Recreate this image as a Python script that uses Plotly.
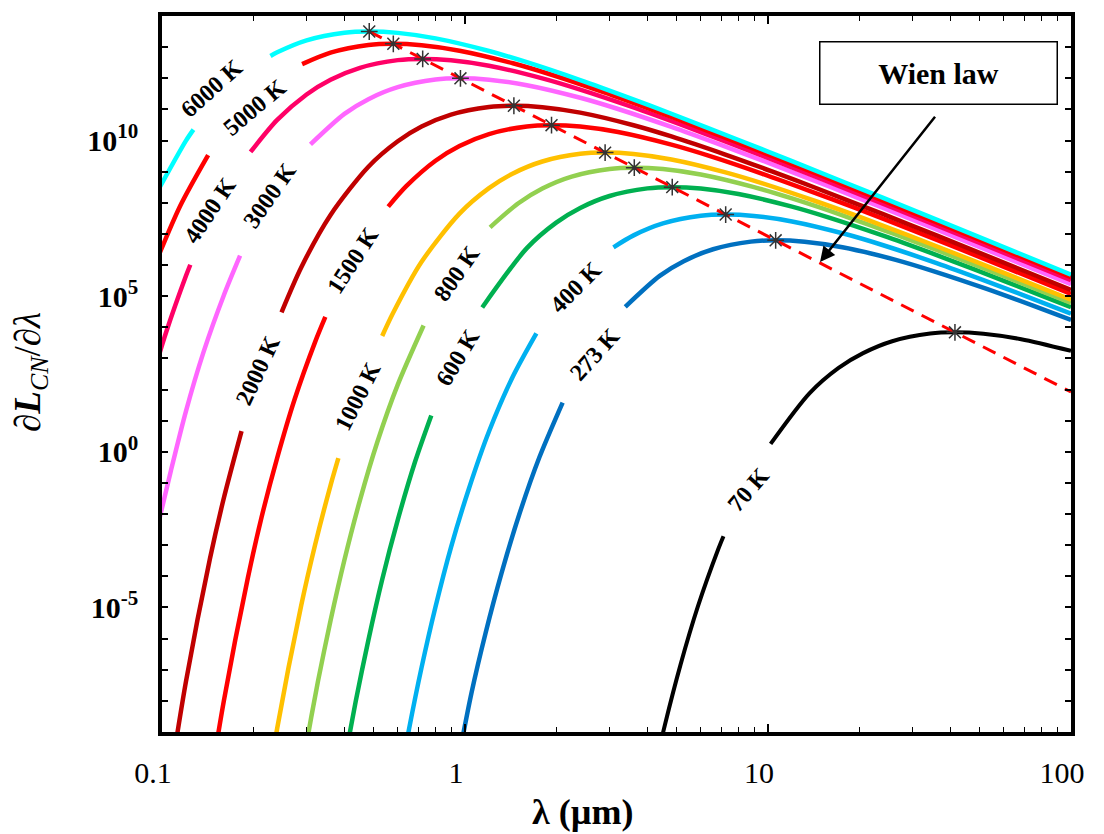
import plotly.graph_objects as go

# ---------------- data ----------------
# wavelength (um) and spectral radiance; None marks the gap where the label sits
lam_6000 = [0.0959, 0.120, 0.127, None, 0.228, 0.240, 0.300, 0.400, 0.480, 0.600, 0.800, 1.20, 1.60, 2.40, 3.43, 4.80, 8.00, 12.0, 24.0, 48.0, 100]
val_6000 = [2.04e8, 9.91e9, 2.24e10, None, 5.20e12, 6.82e12, 1.65e13, 2.90e13, 3.18e13, 2.87e13, 1.91e13, 7.53e12, 3.28e12, 8.75e11, 2.49e11, 7.24e10, 1.04e10, 2.17e9, 1.43e8, 9.16e6, 4.91e5]

lam_5000 = [0.0959, 0.115, 0.142, None, 0.290, 0.360, 0.480, 0.576, 0.719, 0.959, 1.44, 1.92, 2.88, 4.11, 5.76, 9.59, 14.4, 28.8, 57.6, 100]
val_5000 = [1.37e6, 8.18e7, 3.40e9, None, 2.84e12, 6.64e12, 1.17e13, 1.28e13, 1.15e13, 7.69e12, 3.03e12, 1.32e12, 3.52e11, 1.00e11, 2.91e10, 4.20e9, 8.73e8, 5.74e7, 3.68e6, 4.08e5]

lam_4000 = [0.0899, 0.103, 0.120, 0.124, None, 0.196, 0.240, 0.300, 0.360, 0.450, 0.600, 0.719, 0.899, 1.20, 1.80, 2.40, 3.60, 5.14, 7.19, 12.0, 18.0, 36.0, 71.9, 100]
val_4000 = [85.9, 6.55e3, 4.50e5, 1.02e6, None, 4.29e9, 4.59e10, 3.02e11, 8.98e11, 2.17e12, 3.82e12, 4.19e12, 3.78e12, 2.52e12, 9.91e11, 4.32e11, 1.15e11, 3.27e10, 9.53e9, 1.37e9, 2.86e8, 1.88e7, 1.21e6, 3.25e5]

lam_3000 = [0.0959, 0.107, 0.120, 0.137, 0.160, 0.181, None, 0.309, 0.400, 0.480, 0.600, 0.799, 0.959, 1.20, 1.60, 2.40, 3.20, 4.80, 6.85, 9.59, 16.0, 24.0, 48.0, 100]
val_3000 = [2.83e-3, 0.248, 20.4, 1.56e3, 1.07e5, 1.99e6, None, 7.53e9, 7.18e10, 2.13e11, 5.16e11, 9.08e11, 9.95e11, 8.97e11, 5.98e11, 2.36e11, 1.03e11, 2.74e10, 7.78e9, 2.26e9, 3.27e8, 6.79e7, 4.47e6, 2.43e5]

lam_2000 = [0.103, 0.120, 0.144, 0.160, 0.183, None, 0.248, 0.288, 0.360, 0.480, 0.600, 0.719, 0.899, 1.20, 1.44, 1.80, 2.40, 3.60, 4.80, 7.19, 10.3, 14.4, 24.0, 36.0, 71.9, 100]
val_2000 = [4.13e-12, 4.21e-8, 3.72e-4, 3.27e-2, 4.62, None, 3.04e4, 8.38e5, 4.07e7, 1.44e9, 9.44e9, 2.81e10, 6.79e10, 1.19e11, 1.31e11, 1.18e11, 7.87e10, 3.10e10, 1.35e10, 3.60e9, 1.02e9, 2.98e8, 4.30e7, 8.93e6, 5.87e5, 1.60e5]

lam_1500 = [0.137, 0.160, 0.192, 0.213, 0.240, 0.274, 0.320, 0.346, None, 0.558, 0.640, 0.799, 0.959, 1.20, 1.60, 1.92, 2.40, 3.20, 4.80, 6.40, 9.59, 13.7, 19.2, 32.0, 48.0, 100]
val_1500 = [9.82e-13, 1.00e-8, 8.85e-5, 7.76e-3, 0.638, 48.6, 3.34e3, 2.15e4, None, 7.55e7, 3.41e8, 2.24e9, 6.67e9, 1.61e10, 2.84e10, 3.11e10, 2.81e10, 1.87e10, 7.36e9, 3.21e9, 8.55e8, 2.43e8, 7.08e7, 1.02e7, 2.12e6, 1.19e5]

lam_1000 = [0.206, 0.240, 0.288, 0.320, 0.360, 0.382, None, 0.533, 0.576, 0.719, 0.959, 1.20, 1.44, 1.80, 2.40, 2.88, 3.60, 4.80, 7.19, 9.59, 14.4, 20.6, 28.8, 48.0, 100]
val_1000 = [1.29e-13, 1.32e-9, 1.16e-5, 1.02e-3, 8.39e-2, 0.624, None, 5.25e3, 2.62e4, 1.27e6, 4.49e7, 2.95e8, 8.77e8, 2.12e9, 3.73e9, 4.09e9, 3.69e9, 2.46e9, 9.68e8, 4.22e8, 1.12e8, 3.20e7, 9.31e6, 1.34e6, 7.69e4]

lam_800 = [0.257, 0.300, 0.327, 0.360, 0.400, 0.450, 0.514, 0.600, 0.730, None, 1.21, 1.50, 1.80, 2.25, 3.00, 3.60, 4.50, 6.00, 8.99, 12.0, 18.0, 25.7, 36.0, 60.0, 100]
val_800 = [4.24e-14, 4.32e-10, 4.15e-8, 3.82e-6, 3.35e-4, 2.75e-2, 2.10, 144, 1.14e4, None, 1.63e7, 9.68e7, 2.88e8, 6.97e8, 1.22e9, 1.34e9, 1.21e9, 8.07e8, 3.18e8, 1.38e8, 3.69e7, 1.05e7, 3.05e6, 4.41e5, 6.05e4]

lam_600 = [0.369, 0.400, 0.436, 0.480, 0.533, 0.600, 0.685, 0.774, None, 1.14, 1.60, 2.00, 2.40, 3.00, 4.00, 4.80, 6.00, 7.99, 12.0, 16.0, 24.0, 34.3, 48.0, 79.9, 100]
val_600 = [1.03e-12, 1.02e-10, 9.84e-9, 9.06e-7, 7.94e-5, 6.53e-3, 0.498, 14.8, None, 4.35e4, 3.49e6, 2.30e7, 6.82e7, 1.65e8, 2.90e8, 3.18e8, 2.87e8, 1.91e8, 7.53e7, 3.28e7, 8.75e6, 2.49e6, 7.24e5, 1.04e5, 4.40e4]

lam_400 = [0.553, 0.600, 0.654, 0.719, 0.799, 0.899, 1.03, 1.20, 1.44, 1.72, None, 3.09, 3.60, 4.50, 6.00, 7.19, 8.99, 12.0, 18.0, 24.0, 36.0, 51.4, 71.9, 100]
val_400 = [1.36e-13, 1.35e-11, 1.29e-9, 1.19e-7, 1.04e-5, 8.59e-4, 6.55e-2, 4.50, 268, 6.41e3, None, 3.72e6, 8.97e6, 2.17e7, 3.82e7, 4.19e7, 3.78e7, 2.52e7, 9.91e6, 4.32e6, 1.15e6, 3.27e5, 9.53e4, 2.75e4]

lam_273 = [0.878, 0.958, 1.05, 1.17, 1.32, 1.51, 1.76, 2.10, None, 3.38, 4.39, 5.27, 6.59, 8.78, 10.5, 13.2, 17.6, 26.4, 35.1, 52.7, 75.3, 100]
val_273 = [2.00e-12, 1.92e-10, 1.77e-8, 1.55e-6, 1.27e-4, 9.70e-3, 0.667, 38.2, None, 4.54e4, 4.48e5, 1.33e6, 3.22e6, 5.66e6, 6.21e6, 5.60e6, 3.73e6, 1.47e6, 6.40e5, 1.71e5, 4.85e4, 1.72e4]

lam_70 = [4.11, 4.57, 5.14, 5.87, 6.85, 7.13, None, 10.2, 13.7, 17.1, 20.6, 25.7, 34.3, 41.1, 51.4, 68.5, 100]
val_70 = [1.96e-11, 1.72e-9, 1.41e-7, 1.08e-5, 7.40e-4, 1.94e-3, None, 1.80, 75.5, 497, 1.48e3, 3.57e3, 6.28e3, 6.89e3, 6.21e3, 4.14e3, 1.75e3]

# peaks (Wien law stars) and the Wien line
peak_lam = [0.483, 0.580, 0.725, 0.966, 1.45, 1.93, 2.90, 3.62, 4.83, 7.25, 10.6, 41.4]
peak_val = [3.18e13, 1.28e13, 4.19e12, 9.95e11, 1.31e11, 3.11e10, 4.09e9, 1.34e9, 3.18e8, 4.19e7, 6.21e6, 6.89e3]
wien_lam = [0.483, 100]
wien_val = [3.18e13, 83.6]

curve_labels = ["70 K", "273 K", "400 K", "600 K", "800 K", "1000 K",
                "1500 K", "2000 K", "3000 K", "4000 K", "5000 K", "6000 K"]
curve_lams = [lam_70, lam_273, lam_400, lam_600, lam_800, lam_1000,
              lam_1500, lam_2000, lam_3000, lam_4000, lam_5000, lam_6000]
curve_vals = [val_70, val_273, val_400, val_600, val_800, val_1000,
              val_1500, val_2000, val_3000, val_4000, val_5000, val_6000]

x_tickvals = [0.1, 1, 10, 100]
x_ticktext = ["0.1", "1", "10", "100"]
x_minor = [0.2, 0.3, 0.4, 0.5, 0.6, 0.7, 0.8, 0.9, 2, 3, 4, 5, 6, 7, 8, 9,
           20, 30, 40, 50, 60, 70, 80, 90]
y_tickvals = [1e-5, 1, 1e5, 1e10]
y_ticktext = ["<b>10<sup>-5</sup></b>", "<b>10<sup>0</sup></b>",
              "<b>10<sup>5</sup></b>", "<b>10<sup>10</sup></b>"]
y_minor = [1e-9, 1e-8, 1e-7, 1e-6, 1e-4, 1e-3, 1e-2, 1e-1, 1e1, 1e2, 1e3, 1e4,
           1e6, 1e7, 1e8, 1e9, 1e11, 1e12, 1e13, 1e14]

# ---------------- styles / positions ----------------
colors = {"70 K": "#000000", "273 K": "#0070C0", "400 K": "#00B0F0",
          "600 K": "#00B050", "800 K": "#92D050", "1000 K": "#FFC000",
          "1500 K": "#FF0000", "2000 K": "#C00000", "3000 K": "#FF66FF",
          "4000 K": "#FF0066", "5000 K": "#FF0000", "6000 K": "#00FFFF"}

# label placement in paper coordinates and rotation
label_pos = {"6000 K": (0.0550, 0.8994, -42), "5000 K": (0.1023, 0.8729, -40),
             "4000 K": (0.0528, 0.7291, -56), "3000 K": (0.1188, 0.7500, -55),
             "2000 K": (0.1056, 0.5056, -65), "1500 K": (0.2101, 0.6592, -57),
             "1000 K": (0.2156, 0.4693, -63), "800 K": (0.3245, 0.6411, -55),
             "600 K": (0.3256, 0.5237, -59), "400 K": (0.4554, 0.6215, -45),
             "273 K": (0.4763, 0.5279, -48), "70 K": (0.6447, 0.3380, -49)}

SERIF = "Liberation Serif"

fig = go.Figure()

for name, lam, val in zip(curve_labels, curve_lams, curve_vals):
    fig.add_trace(go.Scatter(
        x=lam, y=val, mode="lines", name=name, connectgaps=False,
        line=dict(color=colors[name], width=4 if name == "70 K" else 4.5,
                  shape="spline", smoothing=0.8),
        hoverinfo="skip", showlegend=False))

fig.add_trace(go.Scatter(
    x=wien_lam, y=wien_val, mode="lines",
    line=dict(color="#FF0000", width=3, dash="14px,9px"),
    hoverinfo="skip", showlegend=False))

fig.add_trace(go.Scatter(
    x=peak_lam, y=peak_val, mode="markers",
    marker=dict(symbol="asterisk-open", size=14, color="#333333",
                line=dict(color="#333333", width=1.5)),
    hoverinfo="skip", showlegend=False))

annotations = []
for name in curve_labels:
    px, py, ang = label_pos[name]
    annotations.append(dict(
        x=px, y=py, xref="paper", yref="paper", text="<b>" + name + "</b>",
        showarrow=False, textangle=ang, xanchor="center", yanchor="middle",
        font=dict(family=SERIF, size=24, color="black")))

# Wien law box
annotations.append(dict(
    x=0.8546, y=0.920, xref="paper", yref="paper", text="<b>Wien law</b>",
    showarrow=False, xanchor="center", yanchor="middle",
    width=232, height=57, borderpad=2, borderwidth=1.5,
    bordercolor="black", bgcolor="white",
    font=dict(family=SERIF, size=30, color="black")))

# arrow to the Wien line
annotations.append(dict(
    x=0.7239, y=0.6564, xref="paper", yref="paper", text=" ",
    showarrow=True, ax=118, ay=-149, axref="pixel", ayref="pixel",
    arrowhead=2, arrowsize=1.2, arrowwidth=2.5, arrowcolor="black", standoff=0))

# axis titles
annotations.append(dict(
    x=0.463, y=-0.112, xref="paper", yref="paper",
    text="<b>λ (µm)</b>", showarrow=False, xanchor="center", yanchor="middle",
    font=dict(family=SERIF, size=36, color="black")))
annotations.append(dict(
    x=-0.144, y=0.503, xref="paper", yref="paper",
    text="∂<b><i>L</i></b><sub><i>CN</i></sub>/∂<i>λ</i>",
    showarrow=False, textangle=-90, xanchor="center", yanchor="middle",
    font=dict(family=SERIF, size=37, color="black")))

fig.update_layout(
    width=1104, height=834, autosize=False,
    margin=dict(l=162, r=33, t=16, b=102, pad=0),
    paper_bgcolor="white", plot_bgcolor="white",
    showlegend=False,
    annotations=annotations,
    xaxis=dict(
        type="log", range=[-1, 2], showgrid=False, zeroline=False,
        showline=True, linewidth=3.5, linecolor="black", mirror="allticks",
        ticks="inside", ticklen=8, tickwidth=1.5, tickcolor="black",
        tickvals=x_tickvals, ticktext=x_ticktext,
        tickfont=dict(family=SERIF, size=30, color="black"),
        ticklabelstandoff=11, ticklabelshift=-9,
        minor=dict(tickvals=x_minor, ticks="inside", ticklen=5,
                   tickwidth=1.2, tickcolor="black", showgrid=False)),
    yaxis=dict(
        type="log", range=[-9, 14], showgrid=False, zeroline=False,
        showline=True, linewidth=3.5, linecolor="black", mirror="allticks",
        ticks="inside", ticklen=6, tickwidth=1.5, tickcolor="black",
        tickvals=y_tickvals, ticktext=y_ticktext,
        tickfont=dict(family=SERIF, size=30, color="black"),
        ticklabelstandoff=14,
        minor=dict(tickvals=y_minor, ticks="inside", ticklen=6,
                   tickwidth=1.5, tickcolor="black", showgrid=False)),
)

fig.write_html("out.html")
